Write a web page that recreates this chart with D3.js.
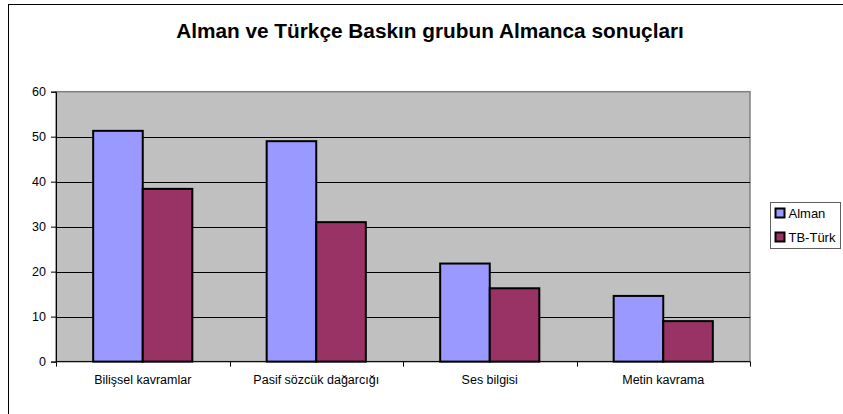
<!DOCTYPE html>
<meta charset="utf-8">
<style>
    body { margin: 0; background: #fff; }
    svg { display: block; font-family: "Liberation Sans", Arial, sans-serif; }
    .grid line { stroke: #000; stroke-width: 1px; }
    .bars rect { stroke: #000; stroke-width: 2px; }
</style>
<svg width="843" height="414"></svg>
<script src="https://d3js.org/d3.v7.min.js"></script>
<script>
    // chart values
    var categories = ["Bilişsel kavramlar", "Pasif sözcük dağarcığı", "Ses bilgisi", "Metin kavrama"];
    var seriesNames = ["Alman", "TB-Türk"];
    var alman = [51.3, 49.0, 21.8, 14.6];
    var tbTurk = [38.4, 31.0, 16.3, 9.0];
    var yTicks = [0, 10, 20, 30, 40, 50, 60];
    var colours = ["#9999ff", "#993366"];

    var svg = d3.select("svg");

    // outer chart frame (runs off the right and bottom edges)
    svg.append("rect")
        .attr("x", 8.5).attr("y", 4.5)
        .attr("width", 900).attr("height", 500)
        .attr("fill", "#fff").attr("stroke", "#000");

    svg.append("text")
        .attr("x", 430).attr("y", 37.5)
        .attr("text-anchor", "middle")
        .style("font-size", "20.8px").style("font-weight", "bold")
        .text("Alman ve Türkçe Baskın grubun Almanca sonuçları");

    var plot = {left: 56, top: 91.7, right: 750, bottom: 361.6};

    var x = d3.scaleBand().domain(categories).range([plot.left, plot.right]);
    var x1 = d3.scaleBand().domain(seriesNames).range([0, x.bandwidth()])
        .paddingOuter(0.75).paddingInner(0);
    var y = d3.scaleLinear().domain([0, 60]).range([plot.bottom, plot.top]);

    // plot area
    svg.append("rect")
        .attr("x", plot.left).attr("y", plot.top)
        .attr("width", plot.right - plot.left).attr("height", plot.bottom - plot.top)
        .attr("fill", "#c0c0c0").attr("stroke", "#808080").attr("stroke-width", 1.5);

    svg.append("g").attr("class", "grid")
        .selectAll("line")
        .data(yTicks.filter(function (d) { return d > 0 && d < 60; }))
        .enter().append("line")
        .attr("x1", plot.left).attr("x2", plot.right)
        .attr("y1", function (d) { return Math.round(y(d)) + 0.5; })
        .attr("y2", function (d) { return Math.round(y(d)) + 0.5; });

    // bars
    var rows = categories.map(function (c, i) {
        return {cat: c, vals: [alman[i], tbTurk[i]]};
    });
    var group = svg.append("g").attr("class", "bars")
        .selectAll("g").data(rows).enter().append("g")
        .attr("transform", function (d) { return "translate(" + x(d.cat) + ",0)"; });
    group.selectAll("rect")
        .data(function (d) { return d.vals.map(function (v, j) { return {name: seriesNames[j], v: v, j: j}; }); })
        .enter().append("rect")
        .attr("x", function (d) { return x1(d.name); })
        .attr("width", x1.bandwidth())
        .attr("y", function (d) { return y(d.v); })
        .attr("height", function (d) { return plot.bottom - y(d.v); })
        .attr("fill", function (d) { return colours[d.j]; });

    // y axis
    var yAxis = svg.append("g")
        .attr("transform", "translate(" + plot.left + ",0)")
        .call(d3.axisLeft(y).tickValues(yTicks).tickSize(5).tickPadding(5));
    yAxis.select(".domain").attr("stroke", "#000");
    yAxis.selectAll("text").style("font-size", "12.5px").style("font-family", "Liberation Sans, Arial, sans-serif");

    // x axis, ticks on category boundaries
    var xAxis = svg.append("g").attr("transform", "translate(0," + plot.bottom + ")");
    xAxis.append("line")
        .attr("x1", plot.left).attr("x2", plot.right)
        .attr("stroke", "#000");
    xAxis.selectAll("line.tick")
        .data(categories.map(function (c) { return x(c); }).concat([plot.right]))
        .enter().append("line").attr("class", "tick")
        .attr("x1", function (d) { return Math.round(d) + 0.5; })
        .attr("x2", function (d) { return Math.round(d) + 0.5; })
        .attr("y1", 0).attr("y2", 5).attr("stroke", "#000");
    xAxis.selectAll("text")
        .data(categories).enter().append("text")
        .attr("x", function (d) { return x(d) + x.bandwidth() / 2; })
        .attr("y", 22)
        .attr("text-anchor", "middle")
        .style("font-size", "12.5px")
        .text(function (d) { return d; });

    // legend
    var legend = svg.append("g").attr("transform", "translate(770,202)");
    legend.append("rect")
        .attr("x", 0.5).attr("y", 0.5).attr("width", 70).attr("height", 46)
        .attr("fill", "#fff").attr("stroke", "#606060");
    var item = legend.selectAll("g.item").data(seriesNames).enter().append("g")
        .attr("class", "item")
        .attr("transform", function (d, i) { return "translate(5.5," + (6.5 + i * 24) + ")"; });
    item.append("rect")
        .attr("width", 9).attr("height", 9)
        .attr("fill", function (d, i) { return colours[i]; })
        .attr("stroke", "#000").attr("stroke-width", 2);
    item.append("text")
        .attr("x", 13).attr("y", 9.5)
        .style("font-size", "13px")
        .text(function (d) { return d; });
</script>
